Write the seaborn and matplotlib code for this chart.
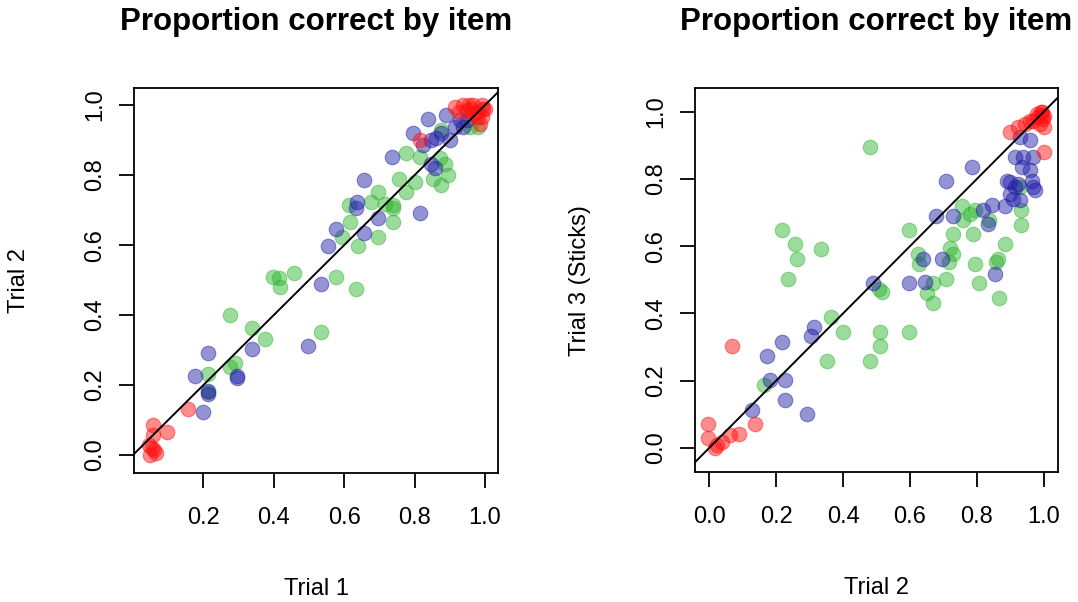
import numpy as np
import pandas as pd
import matplotlib
matplotlib.use("Agg")
import matplotlib.pyplot as plt
import seaborn as sns

# ---------------- data ----------------
# Panel 1: Trial 1 (x) vs Trial 2 (y)
p1_red_x = [0.05, 0.06, 0.055, 0.045, 0.065, 0.057, 0.098, 0.057, 0.157,
            0.914, 0.938, 0.967, 0.995, 0.976, 0.986, 0.95, 0.96, 0.98, 0.99,
            1.0, 0.97, 0.925, 0.814, 0.955, 0.99]
p1_red_y = [0.0, 0.015, 0.02, 0.03, 0.005, 0.085, 0.067, 0.057, 0.133,
            0.995, 1.0, 1.0, 0.99, 0.967, 0.947, 0.985, 0.99, 0.98, 1.0,
            0.99, 0.975, 0.98, 0.90, 1.0, 0.965]
p1_blue_x = [0.20, 0.214, 0.214, 0.176, 0.214, 0.295, 0.295, 0.338, 0.497,
             0.535, 0.555, 0.576, 0.633, 0.636, 0.657, 0.696, 0.657, 0.816,
             0.736, 0.795, 0.838, 0.824, 0.848, 0.862, 0.848, 0.857, 0.890,
             0.900, 0.929, 0.938, 0.948, 0.914, 0.876]
p1_blue_y = [0.124, 0.176, 0.182, 0.226, 0.292, 0.22, 0.227, 0.302, 0.312,
             0.488, 0.598, 0.645, 0.705, 0.724, 0.635, 0.676, 0.786, 0.693,
             0.852, 0.921, 0.959, 0.886, 0.90, 0.905, 0.833, 0.819, 0.971,
             0.90, 0.957, 0.938, 0.957, 0.938, 0.919]
p1_green_x = [0.214, 0.214, 0.276, 0.338, 0.376, 0.290, 0.276, 0.397, 0.414,
              0.419, 0.457, 0.535, 0.576, 0.635, 0.595, 0.616, 0.614, 0.638,
              0.676, 0.695, 0.695, 0.717, 0.738, 0.738, 0.738, 0.757, 0.776,
              0.776, 0.800, 0.814, 0.852, 0.876, 0.895, 0.886, 0.876, 0.871,
              0.957, 0.98]
p1_green_y = [0.181, 0.233, 0.400, 0.362, 0.333, 0.262, 0.252, 0.509, 0.507,
              0.479, 0.519, 0.352, 0.509, 0.476, 0.624, 0.667, 0.714, 0.598,
              0.724, 0.752, 0.624, 0.717, 0.705, 0.667, 0.714, 0.790, 0.752,
              0.862, 0.781, 0.852, 0.790, 0.771, 0.800, 0.833, 0.929, 0.848,
              0.938, 0.938]

# Panel 2: Trial 2 (x) vs Trial 3 (Sticks) (y)
p2_red_x = [-0.002, -0.002, 0.018, 0.023, 0.038, 0.063, 0.088, 0.137, 0.068,
            0.899, 0.923, 0.943, 0.958, 0.968, 0.978, 0.993, 0.998, 0.988,
            0.983, 1.0, 1.0, 1.0, 0.99, 0.995]
p2_red_y = [0.073, 0.029, 0.0, 0.009, 0.019, 0.039, 0.042, 0.073, 0.303,
            0.939, 0.954, 0.963, 0.973, 0.973, 0.993, 0.998, 0.978, 0.963,
            0.983, 0.988, 0.954, 0.88, 1.0, 0.99]
p2_blue_x = [0.127, 0.182, 0.227, 0.227, 0.174, 0.217, 0.292, 0.303, 0.313,
             0.489, 0.598, 0.645, 0.640, 0.697, 0.854, 0.677, 0.727, 0.707,
             0.784, 0.819, 0.844, 0.834, 0.884, 0.909, 0.889, 0.899, 0.913,
             0.923, 0.973, 0.963, 0.913, 0.938, 0.968, 0.933, 0.958, 0.928,
             0.958, 0.968, 0.899, 0.928]
p2_blue_y = [0.113, 0.202, 0.144, 0.202, 0.273, 0.316, 0.101, 0.332, 0.360,
             0.491, 0.491, 0.494, 0.561, 0.561, 0.518, 0.691, 0.691, 0.793,
             0.835, 0.706, 0.721, 0.667, 0.718, 0.741, 0.795, 0.790, 0.776,
             0.785, 0.766, 0.795, 0.865, 0.865, 0.865, 0.835, 0.825, 0.924,
             0.914, 0.776, 0.756, 0.736]
p2_green_x = [0.481, 0.217, 0.257, 0.264, 0.235, 0.333, 0.363, 0.401, 0.351,
              0.481, 0.510, 0.510, 0.517, 0.508, 0.597, 0.597, 0.625, 0.628,
              0.650, 0.668, 0.670, 0.708, 0.717, 0.718, 0.727, 0.727, 0.754,
              0.757, 0.779, 0.794, 0.787, 0.794, 0.806, 0.837, 0.857, 0.864,
              0.884, 0.867, 0.931, 0.931, 0.164, 0.928]
p2_green_y = [0.894, 0.649, 0.605, 0.561, 0.503, 0.591, 0.388, 0.345, 0.258,
              0.258, 0.345, 0.304, 0.463, 0.474, 0.345, 0.649, 0.578, 0.548,
              0.461, 0.431, 0.491, 0.503, 0.553, 0.593, 0.578, 0.635, 0.718,
              0.679, 0.696, 0.708, 0.635, 0.548, 0.491, 0.677, 0.553, 0.563,
              0.605, 0.446, 0.708, 0.664, 0.187, 0.776]

group_order = ["green", "blue", "red"]
group_colors = {"green": "#2FB52F", "blue": "#1F1FA6", "red": "#FF1010"}

panels = [
    {"title": "Proportion correct by item", "xlabel": "Trial 1", "ylabel": "Trial 2",
     "xticks": [0.2, 0.4, 0.6, 0.8, 1.0], "yticks": [0.0, 0.2, 0.4, 0.6, 0.8, 1.0],
     "xlim": (0.004, 1.036), "ylim": (-0.052, 1.048),
     "data": {"red": (p1_red_x, p1_red_y), "blue": (p1_blue_x, p1_blue_y),
              "green": (p1_green_x, p1_green_y)}},
    {"title": "Proportion correct by item", "xlabel": "Trial 2", "ylabel": "Trial 3 (Sticks)",
     "xticks": [0.0, 0.2, 0.4, 0.6, 0.8, 1.0], "yticks": [0.0, 0.2, 0.4, 0.6, 0.8, 1.0],
     "xlim": (-0.042, 1.041), "ylim": (-0.072, 1.069),
     "data": {"red": (p2_red_x, p2_red_y), "blue": (p2_blue_x, p2_blue_y),
              "green": (p2_green_x, p2_green_y)}},
]

# ---------------- drawing ----------------
sns.set_theme(style="white")
plt.rcParams["font.family"] = ["Liberation Sans", "DejaVu Sans"]

fig = plt.figure(figsize=(10.78, 6.02), dpi=100)
axes_pos = [[134.3 / 1078, 1 - 473.3 / 602, 363.4 / 1078, 385 / 602],
            [695 / 1078, 1 - 472.3 / 602, 362.7 / 1078, 384 / 602]]

for pos, p in zip(axes_pos, panels):
    ax = fig.add_axes(pos)
    frames = []
    for g in group_order:
        xs, ys = p["data"][g]
        frames.append(pd.DataFrame({"x": xs, "y": ys, "group": g}))
    df = pd.concat(frames, ignore_index=True)
    for g in group_order:
        sub = df[df["group"] == g]
        sns.scatterplot(data=sub, x="x", y="y", color=group_colors[g],
                        edgecolor=group_colors[g], linewidth=0.8, s=110,
                        alpha=0.48, ax=ax, legend=False, zorder=2)
    ax.axline((0, 0), slope=1, color="black", lw=1.4, zorder=3)

    ax.set_xlim(*p["xlim"])
    ax.set_ylim(*p["ylim"])
    ax.set_xticks(p["xticks"])
    ax.set_yticks(p["yticks"])
    ax.set_xticklabels([f"{t:.1f}" for t in p["xticks"]])
    ax.set_yticklabels([f"{t:.1f}" for t in p["yticks"]], rotation=90, va="center")
    ax.tick_params(axis="both", which="major", direction="out", length=11,
                   width=1.3, color="black", labelsize=17, labelcolor="black",
                   bottom=True, left=True)
    ax.tick_params(axis="x", pad=13)
    ax.tick_params(axis="y", pad=9)
    for sp in ax.spines.values():
        sp.set_visible(True)
        sp.set_color("black")
        sp.set_linewidth(1.3)

    ax.set_xlabel(p["xlabel"], fontsize=17, color="black")
    ax.set_ylabel(p["ylabel"], fontsize=17, color="black")
    ax.xaxis.set_label_coords(0.5, -0.272)
    ax.yaxis.set_label_coords(-0.288, 0.5)
    ax.set_title(p["title"], fontsize=22.5, fontweight="bold", color="black",
                 y=1.172, va="center", pad=0)

fig.savefig("out.png", dpi=100, facecolor="white")
